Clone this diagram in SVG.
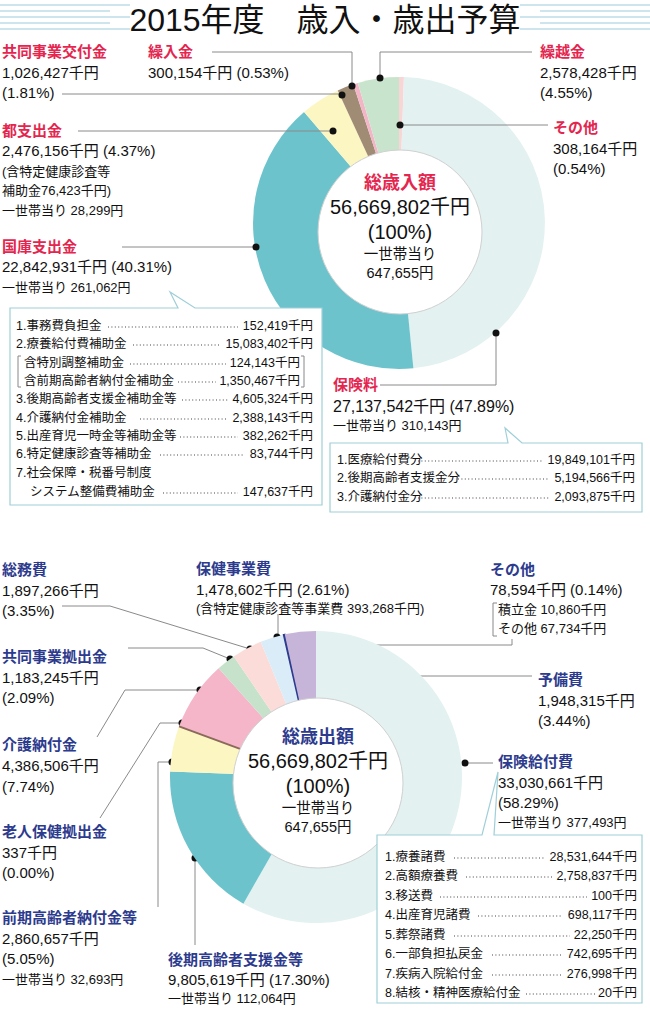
<svg xmlns="http://www.w3.org/2000/svg" width="650" height="1010" viewBox="0 0 650 1010">
<style>
text{font-family:"Liberation Sans","Noto Sans CJK JP",sans-serif;fill:#111}
.r{fill:#e4264f;font-weight:bold;font-size:15px}
.b{fill:#2d3b8e;font-weight:bold;font-size:15px}
.n{font-size:15px}
.m{font-size:13px}
.s{font-size:12.5px}
.e{text-anchor:end}
.c{text-anchor:middle}
.cs{font-size:14.5px}
.ld{fill:none;stroke:#8a8a8a;stroke-width:1}
.dt{stroke:#444;stroke-width:1.2;stroke-dasharray:1 2.4}
.box{fill:#fff;stroke:#9fcfd8;stroke-width:1.2}
.hl{stroke:#cfe5ee;stroke-width:2}
</style>
<rect width="650" height="1010" fill="#fff"/>
<g id="title">
<line class="hl" x1="0" y1="5" x2="130" y2="5"/><line class="hl" x1="0" y1="11" x2="110" y2="11"/><line class="hl" x1="0" y1="17" x2="130" y2="17"/><line class="hl" x1="0" y1="23" x2="110" y2="23"/><line class="hl" x1="0" y1="29" x2="130" y2="29"/>
<line class="hl" x1="520" y1="5" x2="650" y2="5"/><line class="hl" x1="540" y1="11" x2="650" y2="11"/><line class="hl" x1="520" y1="17" x2="650" y2="17"/><line class="hl" x1="540" y1="23" x2="650" y2="23"/><line class="hl" x1="520" y1="29" x2="650" y2="29"/>
<text x="325" y="31" class="c" font-size="32" font-family="Noto Sans CJK JP,sans-serif">2015年度　歳入・歳出予算</text>
</g>
<g id="chart-revenue">
<path d="M399,223 L399,77 A146,146 0 0 1 403.95,77.09 Z" fill="#f9d6d6"/>
<path d="M399,223 L403.95,77.09 A146,146 0 0 1 413.38,368.28 Z" fill="#e3f1f1"/>
<path d="M399,223 L413.38,368.28 A146,146 0 0 1 304.09,112.07 Z" fill="#6cc3cc"/>
<path d="M399,223 L304.09,112.07 A146,146 0 0 1 337.75,90.46 Z" fill="#fcf6c2"/>
<path d="M399,223 L337.75,90.46 A146,146 0 0 1 353.19,84.37 Z" fill="#a08b74"/>
<path d="M399,223 L353.19,84.37 A146,146 0 0 1 357.83,82.93 Z" fill="#f3b6c7"/>
<path d="M399,223 L357.83,82.93 A146,146 0 0 1 399,77 Z" fill="#c9e4cd"/>
<circle cx="400" cy="232" r="82" fill="#fff" stroke="#d0d0d0"/>
<text x="400" y="189" class="c" font-weight="bold" font-size="18" style="fill:#e4264f">総歳入額</text>
<text x="400" y="214" class="c" font-size="20">56,669,802千円</text>
<text x="400" y="239" class="c" font-size="20">(100%)</text>
<text x="400" y="259" class="c cs">一世帯当り</text>
<text x="400" y="278" class="c cs">647,655円</text>
</g>
<g id="connectors">
<polyline class="ld" points="62,94 342,94"/>
<polyline class="ld" points="212,52 352,52 352,86"/>
<polyline class="ld" points="532,52 380,52 380,78"/>
<polyline class="ld" points="548,125 400,125"/>
<polyline class="ld" points="78,131 333,131"/>
<polyline class="ld" points="122,247 256,247"/>
<polyline class="ld" points="380,385 496,385 496,333"/>
<polyline class="ld" points="62,606 110,606 250,649"/>
<polyline class="ld" points="278,614 278,637"/>
<polyline class="ld" points="293,645 512,645 512,639"/>
<polyline class="ld" points="308,676 532,676"/>
<polyline class="ld" points="128,648 203,648 230,659"/>
<polyline class="ld" points="97,737 125,690 200,690"/>
<polyline class="ld" points="100,818 160,723 182,723"/>
<polyline class="ld" points="158,907 158,762 172,762"/>
<polyline class="ld" points="195,945 195,858"/>
<polyline class="ld" points="465,763 493,763"/>
<g fill="#111">
<circle cx="342" cy="95" r="3.5"/><circle cx="352" cy="86" r="3.5"/><circle cx="380" cy="78" r="3.5"/><circle cx="400" cy="125" r="3.5"/><circle cx="333" cy="131" r="3.5"/><circle cx="256" cy="247" r="3.5"/><circle cx="496" cy="333" r="3.5"/>
<circle cx="250" cy="649" r="3.5"/><circle cx="277" cy="637" r="3.5"/><circle cx="293" cy="645" r="3.5"/><circle cx="308" cy="676" r="3.5"/><circle cx="230" cy="659" r="3.5"/><circle cx="200" cy="690" r="3.5"/><circle cx="182" cy="723" r="3.5"/><circle cx="172" cy="762" r="3.5"/><circle cx="195" cy="858" r="3.5"/><circle cx="465" cy="763" r="3.5"/>
</g>
</g>
<g id="label-kyodo-kofu"><text x="2" y="57" class="r">共同事業交付金</text><text x="2" y="78" class="n">1,026,427千円</text><text x="2" y="98" class="n">(1.81%)</text></g>
<g id="label-kurire"><text x="148" y="57" class="r">繰入金</text><text x="148" y="78" class="n">300,154千円 (0.53%)</text></g>
<g id="label-kurikoshi"><text x="540" y="57" class="r">繰越金</text><text x="540" y="78" class="n">2,578,428千円</text><text x="540" y="98" class="n">(4.55%)</text></g>
<g id="label-sonota1"><text x="553" y="133" class="r">その他</text><text x="553" y="154" class="n">308,164千円</text><text x="553" y="174" class="n">(0.54%)</text></g>
<g id="label-to"><text x="2" y="136" class="r">都支出金</text><text x="2" y="156" class="n">2,476,156千円 (4.37%)</text><text x="2" y="176" class="m">(含特定健康診査等</text><text x="2" y="195" class="m">補助金76,423千円)</text><text x="2" y="215" class="m">一世帯当り 28,299円</text></g>
<g id="label-kokko"><text x="2" y="252" class="r">国庫支出金</text><text x="2" y="272" class="n">22,842,931千円 (40.31%)</text><text x="2" y="292" class="m">一世帯当り 261,062円</text></g>
<g id="box-kokko">
<path class="box" d="M10,308 H178 L170,292 L195,308 H322 V505 H10 Z"/>
<path d="M21,356 h-3 v31 h3 M301,356 h3 v31 h-3" fill="none" stroke="#888"/>
<text x="16" y="330" class="s">1.事務費負担金</text><line class="dt" x1="108" y1="327" x2="238" y2="327"/><text x="313" y="330" class="s e">152,419千円</text>
<text x="16" y="348" class="s">2.療養給付費補助金</text><line class="dt" x1="133" y1="345" x2="221" y2="345"/><text x="313" y="348" class="s e">15,083,402千円</text>
<text x="24" y="367" class="s">含特別調整補助金</text><line class="dt" x1="130" y1="364" x2="226" y2="364"/><text x="300" y="367" class="s e">124,143千円</text>
<text x="24" y="385" class="s">含前期高齢者納付金補助金</text><line class="dt" x1="178" y1="382" x2="216" y2="382"/><text x="300" y="385" class="s e">1,350,467千円</text>
<text x="16" y="403" class="s">3.後期高齢者支援金補助金等</text><line class="dt" x1="182" y1="400" x2="229" y2="400"/><text x="313" y="403" class="s e">4,605,324千円</text>
<text x="16" y="422" class="s">4.介護納付金補助金</text><line class="dt" x1="140" y1="419" x2="228" y2="419"/><text x="313" y="422" class="s e">2,388,143千円</text>
<text x="16" y="440" class="s">5.出産育児一時金等補助金等</text><line class="dt" x1="180" y1="437" x2="238" y2="437"/><text x="313" y="440" class="s e">382,262千円</text>
<text x="16" y="458" class="s">6.特定健康診査等補助金</text><line class="dt" x1="160" y1="455" x2="245" y2="455"/><text x="313" y="458" class="s e">83,744千円</text>
<text x="16" y="477" class="s">7.社会保障・税番号制度</text>
<text x="30" y="496" class="s">システム整備費補助金</text><line class="dt" x1="163" y1="493" x2="238" y2="493"/><text x="313" y="496" class="s e">147,637千円</text>
</g>
<g id="label-hokenryo"><text x="333" y="390" class="r">保険料</text><text x="333" y="412" font-size="16">27,137,542千円 (47.89%)</text><text x="333" y="430" class="m">一世帯当り 310,143円</text></g>
<g id="box-hokenryo">
<path class="box" d="M330,443 H508 L505,428 L522,443 H642 V512 H330 Z"/>
<text x="337" y="464" class="s">1.医療給付費分</text><line class="dt" x1="418" y1="461" x2="542" y2="461"/><text x="635" y="464" class="s e">19,849,101千円</text>
<text x="337" y="482" class="s">2.後期高齢者支援金分</text><line class="dt" x1="458" y1="479" x2="549" y2="479"/><text x="635" y="482" class="s e">5,194,566千円</text>
<text x="337" y="501" class="s">3.介護納付金分</text><line class="dt" x1="418" y1="498" x2="549" y2="498"/><text x="635" y="501" class="s e">2,093,875千円</text>
</g>
<g id="chart-expense">
<path d="M316,777 L316,631 A146,146 0 1 1 243.36,903.64 Z" fill="#e3f1f1"/>
<path d="M316,777 L243.36,903.64 A146,146 0 0 1 170.10,771.60 Z" fill="#6cc3cc"/>
<path d="M316,777 L170.10,771.60 A146,146 0 0 1 179.07,726.35 Z" fill="#fcf6c2"/>
<path d="M316,777 L179.07,726.35 A146,146 0 0 1 218.63,668.20 Z" fill="#f4b6c8"/>
<path d="M316,777 L218.63,668.20 A146,146 0 0 1 233.70,656.40 Z" fill="#c6e2ca"/>
<path d="M316,777 L233.70,656.40 A146,146 0 0 1 260.72,641.86 Z" fill="#fbdcd8"/>
<path d="M316,777 L260.72,641.86 A146,146 0 0 1 283.53,634.65 Z" fill="#d9ecf8"/>
<path d="M316,777 L283.53,634.65 A146,146 0 0 1 284.77,634.37 Z" fill="#2d3b8e" stroke="#2d3b8e" stroke-width="1.5"/>
<path d="M316,777 L284.77,634.37 A146,146 0 0 1 316,631 Z" fill="#c6b4d9"/>
<line x1="316" y1="777" x2="179.07" y2="726.35" stroke="#8a6a5a" stroke-width="2"/>
<circle cx="318" cy="783" r="85" fill="#fff" stroke="#d0d0d0"/>
<text x="318" y="743" class="c" font-weight="bold" font-size="18" style="fill:#2d3b8e">総歳出額</text>
<text x="318" y="768" class="c" font-size="20">56,669,802千円</text>
<text x="318" y="793" class="c" font-size="20">(100%)</text>
<text x="318" y="813" class="c cs">一世帯当り</text>
<text x="318" y="832" class="c cs">647,655円</text>
</g>
<g id="label-somu"><text x="2" y="575" class="b">総務費</text><text x="2" y="596" class="n">1,897,266千円</text><text x="2" y="616" class="n">(3.35%)</text></g>
<g id="label-hoken-jigyo"><text x="196" y="574" class="b">保健事業費</text><text x="196" y="595" class="n">1,478,602千円 (2.61%)</text><text x="196" y="613" class="m">(含特定健康診査等事業費 393,268千円)</text></g>
<g id="label-sonota2"><text x="490" y="575" class="b">その他</text><text x="490" y="595" class="n">78,594千円 (0.14%)</text>
<path d="M497,603 h-4 v33 h4" fill="none" stroke="#888"/>
<text x="498" y="614" class="m">積立金  10,860千円</text><text x="498" y="633" class="m">その他  67,734千円</text></g>
<g id="label-yobi"><text x="538" y="685" class="b">予備費</text><text x="538" y="706" class="n">1,948,315千円</text><text x="538" y="726" class="n">(3.44%)</text></g>
<g id="label-kyodo-kyoshutsu"><text x="2" y="662" class="b">共同事業拠出金</text><text x="2" y="683" class="n">1,183,245千円</text><text x="2" y="703" class="n">(2.09%)</text></g>
<g id="label-kaigo"><text x="2" y="750" class="b">介護納付金</text><text x="2" y="771" class="n">4,386,506千円</text><text x="2" y="792" class="n">(7.74%)</text></g>
<g id="label-rojin"><text x="2" y="837" class="b">老人保健拠出金</text><text x="2" y="858" class="n">337千円</text><text x="2" y="878" class="n">(0.00%)</text></g>
<g id="label-zenki"><text x="2" y="923" class="b">前期高齢者納付金等</text><text x="2" y="944" class="n">2,860,657千円</text><text x="2" y="964" class="n">(5.05%)</text><text x="2" y="984" class="m">一世帯当り 32,693円</text></g>
<g id="label-koki"><text x="168" y="965" class="b">後期高齢者支援金等</text><text x="168" y="985" class="n">9,805,619千円 (17.30%)</text><text x="168" y="1003" class="m">一世帯当り 112,064円</text></g>
<g id="label-hoken-kyufu"><text x="498" y="767" class="b">保険給付費</text><text x="498" y="788" class="n">33,030,661千円</text><text x="498" y="808" class="n">(58.29%)</text><text x="498" y="827" class="m">一世帯当り 377,493円</text></g>
<g id="box-hoken-kyufu">
<path class="box" d="M377,835 H482 L498,772 L494,835 H642 V1003 H377 Z"/>
<text x="385" y="861" class="s">1.療養諸費</text><line class="dt" x1="454" y1="858" x2="545" y2="858"/><text x="637" y="861" class="s e">28,531,644千円</text>
<text x="385" y="880" class="s">2.高額療養費</text><line class="dt" x1="466" y1="877" x2="552" y2="877"/><text x="637" y="880" class="s e">2,758,837千円</text>
<text x="385" y="900" class="s">3.移送費</text><line class="dt" x1="440" y1="897" x2="587" y2="897"/><text x="637" y="900" class="s e">100千円</text>
<text x="385" y="919" class="s">4.出産育児諸費</text><line class="dt" x1="478" y1="916" x2="563" y2="916"/><text x="637" y="919" class="s e">698,117千円</text>
<text x="385" y="939" class="s">5.葬祭諸費</text><line class="dt" x1="454" y1="936" x2="570" y2="936"/><text x="637" y="939" class="s e">22,250千円</text>
<text x="385" y="958" class="s">6.一部負担払戻金</text><line class="dt" x1="492" y1="955" x2="563" y2="955"/><text x="637" y="958" class="s e">742,695千円</text>
<text x="385" y="978" class="s">7.疾病入院給付金</text><line class="dt" x1="492" y1="975" x2="563" y2="975"/><text x="637" y="978" class="s e">276,998千円</text>
<text x="385" y="997" class="s">8.結核・精神医療給付金</text><line class="dt" x1="526" y1="994" x2="595" y2="994"/><text x="637" y="997" class="s e">20千円</text>
</g>
</svg>
